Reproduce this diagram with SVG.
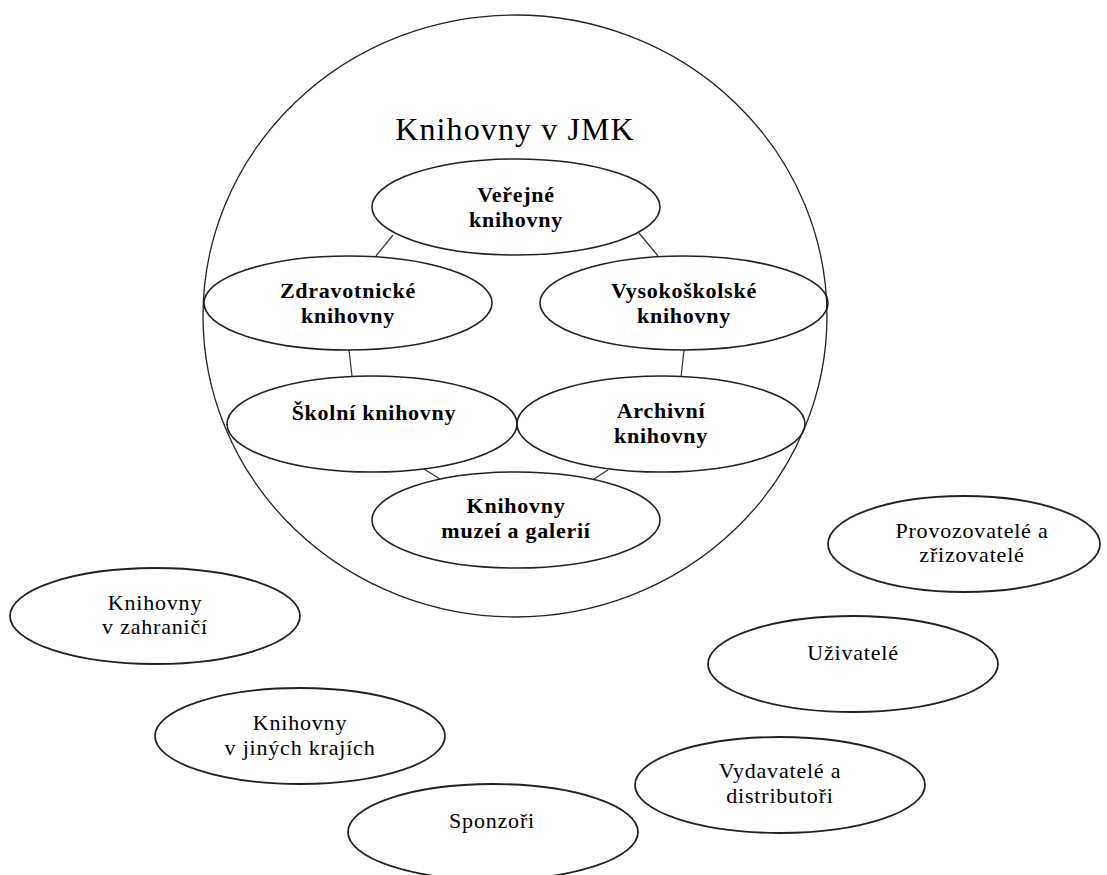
<svg xmlns="http://www.w3.org/2000/svg" width="1107" height="875" viewBox="0 0 1107 875">
<style>
.bg{fill:#ffffff}
.big{fill:none;stroke:#222;stroke-width:1.3}
.inner{fill:none;stroke:#222;stroke-width:1.6}
.outer{fill:none;stroke:#222;stroke-width:1.8}
.conn{fill:none;stroke:#333;stroke-width:1.2}
text{font-family:'Liberation Serif','DejaVu Serif',serif;fill:#000;text-anchor:middle}
.tb{font-size:22px;font-weight:bold;letter-spacing:0.75px}
.tr{font-size:22px;letter-spacing:0.8px}
.title{font-size:32px;letter-spacing:1.1px}
</style>
<rect class="bg" x="0" y="0" width="1107" height="875"/>
<g id="jmk">
<ellipse class="big" cx="515" cy="316" rx="312" ry="301"/>
<text class="title" x="515" y="140">Knihovny v JMK</text>
</g>
<g id="connectors">
<line class="conn" x1="393" y1="235" x2="376" y2="256"/>
<line class="conn" x1="639" y1="233" x2="658" y2="256"/>
<line class="conn" x1="349" y1="350" x2="352" y2="376"/>
<line class="conn" x1="684" y1="350" x2="681" y2="377"/>
<line class="conn" x1="424" y1="469" x2="440" y2="479"/>
<line class="conn" x1="608" y1="470" x2="594" y2="479"/>
</g>
<g id="verejne">
<ellipse class="inner" cx="516" cy="207" rx="144" ry="48"/>
<text class="tb" x="516" y="202">Veřejné</text>
<text class="tb" x="516" y="227">knihovny</text>
</g>
<g id="zdravotnicke">
<ellipse class="inner" cx="348" cy="303" rx="144" ry="47"/>
<text class="tb" x="348" y="298">Zdravotnické</text>
<text class="tb" x="348" y="323">knihovny</text>
</g>
<g id="vysokoskolske">
<ellipse class="inner" cx="684" cy="303" rx="144" ry="47"/>
<text class="tb" x="684" y="298">Vysokoškolské</text>
<text class="tb" x="684" y="323">knihovny</text>
</g>
<g id="skolni">
<ellipse class="inner" cx="372" cy="424" rx="145" ry="48"/>
<text class="tb" x="374" y="420">Školní knihovny</text>
</g>
<g id="archivni">
<ellipse class="inner" cx="661" cy="424" rx="144" ry="48"/>
<text class="tb" x="661" y="418">Archivní</text>
<text class="tb" x="661" y="443">knihovny</text>
</g>
<g id="muzei">
<ellipse class="inner" cx="516" cy="520" rx="144" ry="48"/>
<text class="tb" x="516" y="513">Knihovny</text>
<text class="tb" x="516" y="538">muzeí a galerií</text>
</g>
<g id="provozovatele">
<ellipse class="outer" cx="964" cy="544" rx="136" ry="48"/>
<text class="tr" x="972" y="538">Provozovatelé a</text>
<text class="tr" x="972" y="562">zřizovatelé</text>
</g>
<g id="zahranici">
<ellipse class="outer" cx="155" cy="616" rx="145" ry="48"/>
<text class="tr" x="155" y="610">Knihovny</text>
<text class="tr" x="155" y="634">v zahraničí</text>
</g>
<g id="uzivatele">
<ellipse class="outer" cx="853" cy="664" rx="145" ry="48"/>
<text class="tr" x="853" y="660">Uživatelé</text>
</g>
<g id="jine-kraje">
<ellipse class="outer" cx="300" cy="736" rx="145" ry="48"/>
<text class="tr" x="300" y="730">Knihovny</text>
<text class="tr" x="300" y="755">v jiných krajích</text>
</g>
<g id="vydavatele">
<ellipse class="outer" cx="780" cy="785" rx="145" ry="48"/>
<text class="tr" x="780" y="778">Vydavatelé a</text>
<text class="tr" x="780" y="803">distributoři</text>
</g>
<g id="sponzori">
<ellipse class="outer" cx="493" cy="832" rx="145" ry="48"/>
<text class="tr" x="492" y="828">Sponzoři</text>
</g>
</svg>
